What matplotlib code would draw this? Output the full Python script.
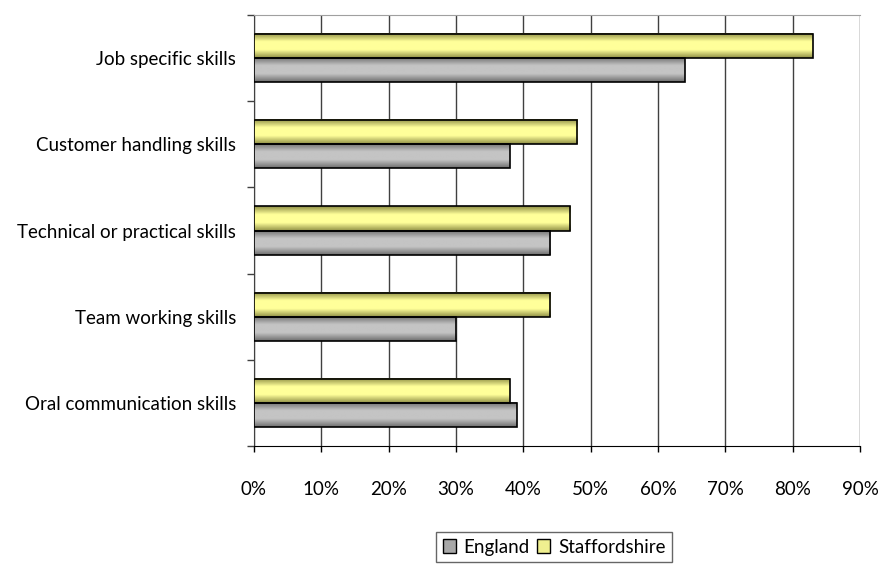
import numpy as np
import matplotlib
matplotlib.use('Agg')
import matplotlib.pyplot as plt
from matplotlib.patches import Patch
from matplotlib.colors import LinearSegmentedColormap

plt.rcParams['font.family'] = ['Lato', 'DejaVu Sans']

skills = ['Job specific skills', 'Customer handling skills', 'Technical or practical skills',
          'Team working skills', 'Oral communication skills']
england = [64, 38, 44, 30, 39]
staffordshire = [83, 48, 47, 44, 38]
xticks = [0, 10, 20, 30, 40, 50, 60, 70, 80, 90]

# shaded fills, dark at the edges and light through the middle
grey_cmap = LinearSegmentedColormap.from_list('g', ['#6e6e6e', '#c4c4c4', '#c4c4c4', '#6e6e6e'])
yellow_cmap = LinearSegmentedColormap.from_list('y', ['#8f8f45', '#ffff9a', '#ffff9a', '#8f8f45'])
shade = np.linspace(0, 1, 64).reshape(-1, 1)

fig = plt.figure(figsize=(8.81, 5.70), dpi=100)
ax = fig.add_axes([0.2883, 0.2175, 0.6879, 0.7562])

y = np.arange(len(skills))
h = 0.28

def shaded_bars(ypos, values, cmap):
    bars = ax.barh(ypos, values, height=h, facecolor='none', edgecolor='black', linewidth=1.2, zorder=4)
    for b in bars:
        x0, y0 = b.get_x(), b.get_y()
        ax.imshow(shade, cmap=cmap, aspect='auto', interpolation='bilinear',
                  extent=(x0, x0 + b.get_width(), y0 + b.get_height(), y0), zorder=3)
    return bars

shaded_bars(y - h / 2, staffordshire, yellow_cmap)
shaded_bars(y + h / 2, england, grey_cmap)

ax.set_xlim(0, 90)
ax.set_ylim(len(skills) - 0.5, -0.5)
ax.set_xticks(xticks)
ax.set_xticklabels([f'{v}%' for v in xticks])
ax.set_yticks(y)
ax.set_yticklabels(skills)
ax.set_yticks(np.arange(-0.5, len(skills)), minor=True)

ax.tick_params(axis='x', direction='out', length=4, width=1, pad=21, labelsize=13.5, colors='black')
ax.tick_params(axis='y', which='major', length=0, pad=13, labelsize=13.5)
ax.tick_params(axis='y', which='minor', direction='out', length=5, width=1, color='#404040')

ax.grid(axis='x', color='#404040', linewidth=1, zorder=1)
ax.set_axisbelow(True)
ax.spines['right'].set_visible(False)
ax.spines['top'].set_color('#a0a0a0')
ax.spines['left'].set_color('#404040')
ax.spines['bottom'].set_color('black')

handles = [Patch(facecolor='#a8a8a8', edgecolor='black', label='England'),
           Patch(facecolor='#f0f090', edgecolor='black', label='Staffordshire')]
leg = fig.legend(handles=handles, loc='upper center', bbox_to_anchor=(0.629, 0.0667), ncol=2,
                 fontsize=13.5, frameon=True, fancybox=False, edgecolor='#404040',
                 handlelength=0.7, handleheight=0.7, handletextpad=0.4, columnspacing=0.4,
                 borderpad=0.35, borderaxespad=0)
leg.get_frame().set_linewidth(1)

plt.savefig('out.png', dpi=100)
